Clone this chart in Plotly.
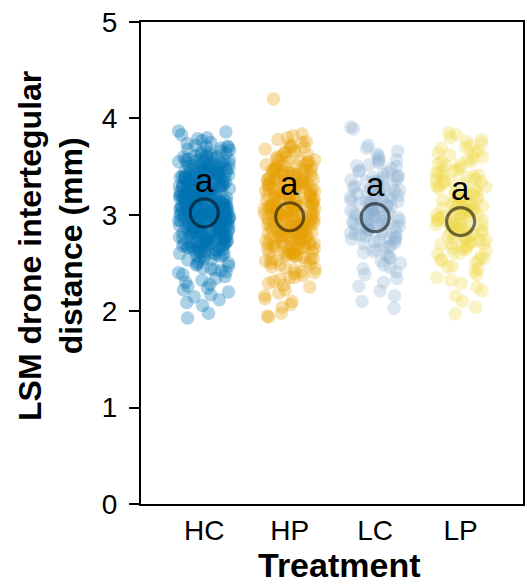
import math
import plotly.graph_objects as go

categories = ["HC", "HP", "LC", "LP"]

HC = [
3.87, 3.86, 3.83, 3.80, 3.79, 3.77, 3.75, 3.74, 3.72, 3.71,
3.70, 3.69, 3.68, 3.67, 3.66, 3.65, 3.64, 3.63, 3.62, 3.61,
3.60, 3.60, 3.59, 3.58, 3.57, 3.56, 3.56, 3.55, 3.54, 3.53,
3.53, 3.52, 3.51, 3.50, 3.50, 3.49, 3.48, 3.48, 3.47, 3.46,
3.45, 3.45, 3.44, 3.43, 3.43, 3.42, 3.41, 3.41, 3.40, 3.39,
3.39, 3.38, 3.37, 3.37, 3.36, 3.35, 3.35, 3.34, 3.33, 3.33,
3.32, 3.31, 3.31, 3.30, 3.29, 3.29, 3.28, 3.28, 3.27, 3.26,
3.26, 3.25, 3.24, 3.24, 3.23, 3.23, 3.22, 3.21, 3.21, 3.20,
3.20, 3.19, 3.18, 3.18, 3.17, 3.17, 3.16, 3.15, 3.15, 3.14,
3.14, 3.13, 3.12, 3.12, 3.11, 3.11, 3.10, 3.10, 3.09, 3.08,
3.08, 3.07, 3.07, 3.06, 3.06, 3.05, 3.04, 3.04, 3.03, 3.03,
3.02, 3.02, 3.01, 3.00, 3.00, 2.99, 2.99, 2.98, 2.98, 2.97,
2.96, 2.96, 2.95, 2.95, 2.94, 2.93, 2.93, 2.92, 2.92, 2.91,
2.90, 2.90, 2.89, 2.89, 2.88, 2.87, 2.87, 2.86, 2.85, 2.85,
2.84, 2.83, 2.83, 2.82, 2.81, 2.81, 2.80, 2.79, 2.79, 2.78,
2.77, 2.77, 2.76, 2.75, 2.74, 2.74, 2.73, 2.72, 2.71, 2.71,
2.70, 2.69, 2.68, 2.67, 2.66, 2.65, 2.64, 2.63, 2.62, 2.61,
2.60, 2.59, 2.58, 2.57, 2.55, 2.54, 2.53, 2.51, 2.50, 2.48,
2.47, 2.45, 2.43, 2.42, 2.40, 2.38, 2.36, 2.34, 2.32, 2.30,
2.28, 2.26, 2.24, 2.22, 2.20, 2.17, 2.15, 2.12, 2.09, 2.06,
1.98, 1.93,
3.45, 3.38, 3.31, 3.22, 3.15, 3.08, 3.01, 2.95, 2.88, 2.81,
2.74, 2.66, 3.42, 3.35, 3.27, 3.19, 3.12, 3.05, 2.98, 2.91,
2.84, 2.77, 2.70, 3.48, 3.40, 3.33, 3.25, 3.17, 3.09, 3.02,
2.96, 2.89, 2.82, 2.75, 2.68, 2.62, 3.55, 3.36, 3.28, 3.13,
3.04, 2.99, 2.92, 2.86, 2.79, 2.72, 3.62, 3.52, 3.44, 3.23,
3.16, 3.07, 2.97, 2.83, 2.64, 2.57, 3.58, 3.47, 3.32, 3.20,
3.50, 3.41, 3.34, 3.26, 3.18, 3.11, 3.03, 2.94, 2.87, 2.80,
2.73, 2.65, 2.58, 3.46, 3.37, 3.29, 3.21, 3.14, 3.06, 2.99,
2.93, 2.85, 2.78, 2.69, 3.53, 3.43, 3.30, 3.24, 3.10, 3.00,
2.91, 2.88, 2.76, 2.63, 3.57, 3.39, 3.27, 3.15, 3.05, 2.97,
2.86, 2.72, 3.65, 3.49, 3.34, 3.18, 3.02, 2.90, 2.80, 2.68,
2.55, 2.49, 2.44, 3.71, 3.60, 3.22, 3.11, 2.95, 2.84, 2.41,
3.36, 3.29, 3.21, 3.13, 3.05, 2.98, 2.90, 2.83, 2.75, 2.67,
3.44, 3.31, 3.19, 3.07, 2.96, 2.85, 2.73, 2.60, 3.52, 3.39,
3.25, 3.12, 3.00, 2.88, 2.77, 2.66, 3.47, 3.34, 3.22, 3.09,
2.97, 2.86, 2.74, 2.61, 3.56, 3.42, 3.28, 3.16, 3.04, 2.93,
2.81, 2.70, 3.49, 3.37, 3.23, 3.10, 2.99, 2.87, 2.78, 2.64,
3.40, 3.26, 3.14, 3.03, 2.92, 2.80, 2.69, 3.33, 3.18, 3.06,
2.94, 2.82, 3.45, 3.30, 3.08, 2.89, 2.71, 3.54, 3.20, 2.98,
2.79, 3.38, 3.12, 2.91, 3.27, 3.01, 2.84, 3.43, 3.16, 2.95,
]

HP = [
4.20, 3.84, 3.82, 3.80, 3.78, 3.76, 3.75, 3.73, 3.71, 3.70,
3.68, 3.67, 3.65, 3.64, 3.62, 3.61, 3.60, 3.58, 3.57, 3.56,
3.55, 3.54, 3.52, 3.51, 3.50, 3.49, 3.48, 3.47, 3.46, 3.45,
3.44, 3.43, 3.42, 3.41, 3.40, 3.39, 3.38, 3.37, 3.36, 3.35,
3.34, 3.33, 3.32, 3.31, 3.30, 3.29, 3.28, 3.27, 3.26, 3.25,
3.24, 3.23, 3.22, 3.21, 3.20, 3.19, 3.18, 3.17, 3.16, 3.15,
3.14, 3.13, 3.12, 3.11, 3.10, 3.09, 3.08, 3.07, 3.06, 3.05,
3.04, 3.03, 3.02, 3.01, 3.00, 2.99, 2.98, 2.97, 2.96, 2.95,
2.94, 2.93, 2.92, 2.91, 2.90, 2.89, 2.88, 2.87, 2.86, 2.85,
2.84, 2.83, 2.82, 2.81, 2.80, 2.79, 2.78, 2.77, 2.76, 2.75,
2.74, 2.73, 2.72, 2.71, 2.70, 2.69, 2.68, 2.66, 2.65, 2.64,
2.62, 2.61, 2.60, 2.58, 2.57, 2.55, 2.54, 2.52, 2.51, 2.49,
2.48, 2.46, 2.44, 2.43, 2.41, 2.39, 2.37, 2.35, 2.33, 2.31,
2.29, 2.27, 2.25, 2.22, 2.19, 2.16, 2.13, 2.10, 2.07, 2.04,
1.98, 1.95, 1.94,
3.02, 2.97, 3.11, 2.88, 3.21, 2.79, 3.31, 2.69, 3.41, 2.59,
3.06, 2.93, 3.16, 2.84, 3.26, 2.74, 3.36, 2.64, 3.46, 2.54,
3.44, 3.36, 3.28, 3.19, 3.09, 3.01, 2.92, 2.84, 2.76, 2.67,
2.58, 3.52, 3.33, 3.14, 2.96, 2.78, 2.63, 3.48, 3.24, 3.05,
2.87, 2.71, 2.53, 3.39, 3.12,
3.42, 3.34, 3.25, 3.17, 3.08, 3.00, 2.91, 2.83, 2.74, 2.66,
2.57, 3.50, 3.30, 3.13, 2.94, 2.80, 2.61, 3.55, 3.22, 3.03,
2.89, 2.70, 2.50, 3.37, 3.15, 3.60, 2.99, 2.82, 2.45, 3.65,
3.27, 3.07, 2.86, 2.73, 2.40, 3.70, 3.46, 2.95, 2.62, 2.35,
3.43, 3.32, 3.20, 3.10, 2.99, 2.88, 2.77, 2.68, 2.56, 3.50,
3.38, 3.26, 3.15, 3.04, 2.93, 2.81, 2.70, 2.60, 3.46, 3.35,
3.23, 3.11, 3.00, 2.90, 2.79, 2.67, 3.55, 3.29, 3.06, 2.85,
2.65, 3.41, 3.18, 2.97, 2.75, 3.33, 3.08, 2.89, 3.24, 3.02,
]

LC = [
3.91, 3.89, 3.72, 3.69, 3.66, 3.63, 3.61, 3.58, 3.56, 3.54,
3.52, 3.50, 3.48, 3.46, 3.44, 3.42, 3.40, 3.39, 3.37, 3.35,
3.33, 3.32, 3.30, 3.28, 3.27, 3.25, 3.24, 3.22, 3.21, 3.19,
3.18, 3.16, 3.15, 3.13, 3.12, 3.10, 3.09, 3.08, 3.06, 3.05,
3.03, 3.02, 3.01, 2.99, 2.98, 2.97, 2.95, 2.94, 2.93, 2.91,
2.90, 2.89, 2.87, 2.86, 2.85, 2.83, 2.82, 2.80, 2.79, 2.77,
2.76, 2.74, 2.72, 2.70, 2.68, 2.66, 2.64, 2.61, 2.58, 2.55,
2.52, 2.48, 2.45, 2.41, 2.38, 2.34, 2.30, 2.26, 2.21, 2.16,
2.10, 2.03,
3.45, 3.36, 3.26, 3.17, 3.07, 2.98, 2.88, 2.78, 2.67, 2.56,
3.51, 3.29, 3.11, 2.96, 2.81, 2.62, 3.40, 3.20, 3.04, 2.92,
2.84, 2.71, 2.50, 3.57, 3.34, 3.14, 3.00, 2.87, 2.75, 2.44,
3.31, 3.23, 3.14, 3.06, 2.99, 2.91, 2.83, 2.76, 3.38, 3.19,
3.02, 2.88, 2.73, 3.27, 3.09, 2.95, 2.80, 3.35, 3.12, 2.93,
]

LP = [
3.85, 3.83, 3.80, 3.78, 3.76, 3.74, 3.71, 3.69, 3.66, 3.64,
3.62, 3.59, 3.57, 3.55, 3.53, 3.51, 3.49, 3.47, 3.45, 3.43,
3.41, 3.39, 3.37, 3.35, 3.33, 3.31, 3.29, 3.27, 3.25, 3.23,
3.21, 3.19, 3.17, 3.15, 3.13, 3.11, 3.09, 3.07, 3.05, 3.03,
3.01, 2.99, 2.97, 2.95, 2.93, 2.91, 2.89, 2.87, 2.85, 2.83,
2.81, 2.79, 2.77, 2.75, 2.73, 2.71, 2.69, 2.67, 2.65, 2.63,
2.61, 2.59, 2.57, 2.55, 2.53, 2.50, 2.47, 2.44, 2.41, 2.38,
2.35, 2.32, 2.29, 2.25, 2.21, 2.16, 2.10, 2.04, 1.97,
3.00, 2.90, 3.10, 2.80, 3.20, 2.70, 3.05, 2.95, 2.85, 3.15,
3.44, 3.34, 3.24, 3.14, 3.04, 2.94, 2.84, 2.74, 2.64, 2.54,
3.52, 3.30, 3.12, 2.98, 2.82, 2.66, 3.40, 3.18, 3.02, 2.88,
2.78, 2.60, 2.46, 3.60, 3.36, 3.08, 2.92, 2.72, 2.52, 3.70,
3.46, 3.35, 3.22, 3.11, 3.00, 2.90, 2.79, 2.68, 3.55, 3.28,
3.06, 2.86, 2.70, 3.41, 3.16, 2.96, 2.76, 3.65, 3.32, 3.01,
]

group_means = [3.02, 2.98, 2.97, 2.93]
letters = ["a", "a", "a", "a"]

values = [HC, HP, LC, LP]
colors = ["0,114,178", "230,159,0", "140,175,210", "238,215,70"]
point_alpha = [0.33, 0.32, 0.30, 0.31]

FONT = "Liberation Sans"


def jitter(i, k):
    # deterministic hash-based horizontal spread (presentation only)
    h = math.sin(i * 12.9898 + k * 78.233) * 43758.5453
    return (h - math.floor(h) - 0.5) * 0.6


fig = go.Figure()
for k, (cat, vals, col) in enumerate(zip(categories, values, colors)):
    xs = [k + jitter(i, k) for i in range(len(vals))]
    fig.add_trace(go.Scatter(
        x=xs, y=vals, mode="markers",
        marker=dict(size=13.5, color=f"rgba({col},{point_alpha[k]})", line=dict(width=0)),
        showlegend=False, hoverinfo="skip",
    ))

for k, (m, col) in enumerate(zip(group_means, colors)):
    fig.add_trace(go.Scatter(
        x=[k], y=[m], mode="markers",
        marker=dict(size=28, color=f"rgba({col},0.25)",
                    line=dict(width=3.2, color="rgba(0,0,0,0.55)")),
        showlegend=False, hoverinfo="skip",
    ))
    fig.add_annotation(x=k, y=m + 0.34, text=letters[k], showarrow=False,
                       xref="x", yref="y", xanchor="center", yanchor="middle",
                       font=dict(size=33, color="black", family=FONT))

fig.add_annotation(x=-0.236, y=0.535, xref="paper", yref="paper",
                   xanchor="center", yanchor="middle",
                   text="<b>LSM drone intertegular<br>distance (mm)</b>",
                   textangle=-90, showarrow=False,
                   font=dict(size=32, color="black", family=FONT))
fig.add_annotation(x=0.52, y=-0.127, xref="paper", yref="paper",
                   xanchor="center", yanchor="middle",
                   text="<b>Treatment</b>", showarrow=False,
                   font=dict(size=34, color="black", family=FONT))

fig.update_layout(
    width=527, height=586,
    margin=dict(l=141, r=2, t=22, b=82),
    plot_bgcolor="white", paper_bgcolor="white",
    font=dict(family=FONT, color="black"),
)
fig.update_xaxes(
    tickmode="array", tickvals=list(range(len(categories))), ticktext=categories,
    range=[-0.74, 3.73], showgrid=False, zeroline=False,
    showline=True, linewidth=2, linecolor="black", mirror=True,
    ticks="", tickfont=dict(size=28, color="black"), ticklabelstandoff=0,
)
fig.update_yaxes(
    range=[0, 5], tickvals=[0, 1, 2, 3, 4, 5], showgrid=False, zeroline=False,
    showline=True, linewidth=2, linecolor="black", mirror=True,
    ticks="outside", ticklen=10, tickwidth=2, tickcolor="black",
    tickfont=dict(size=28, color="black"), ticklabelstandoff=6,
)

fig.write_html("out.html", config={"displayModeBar": False},
               post_script="document.body.style.margin='0';document.body.style.overflow='hidden';")
